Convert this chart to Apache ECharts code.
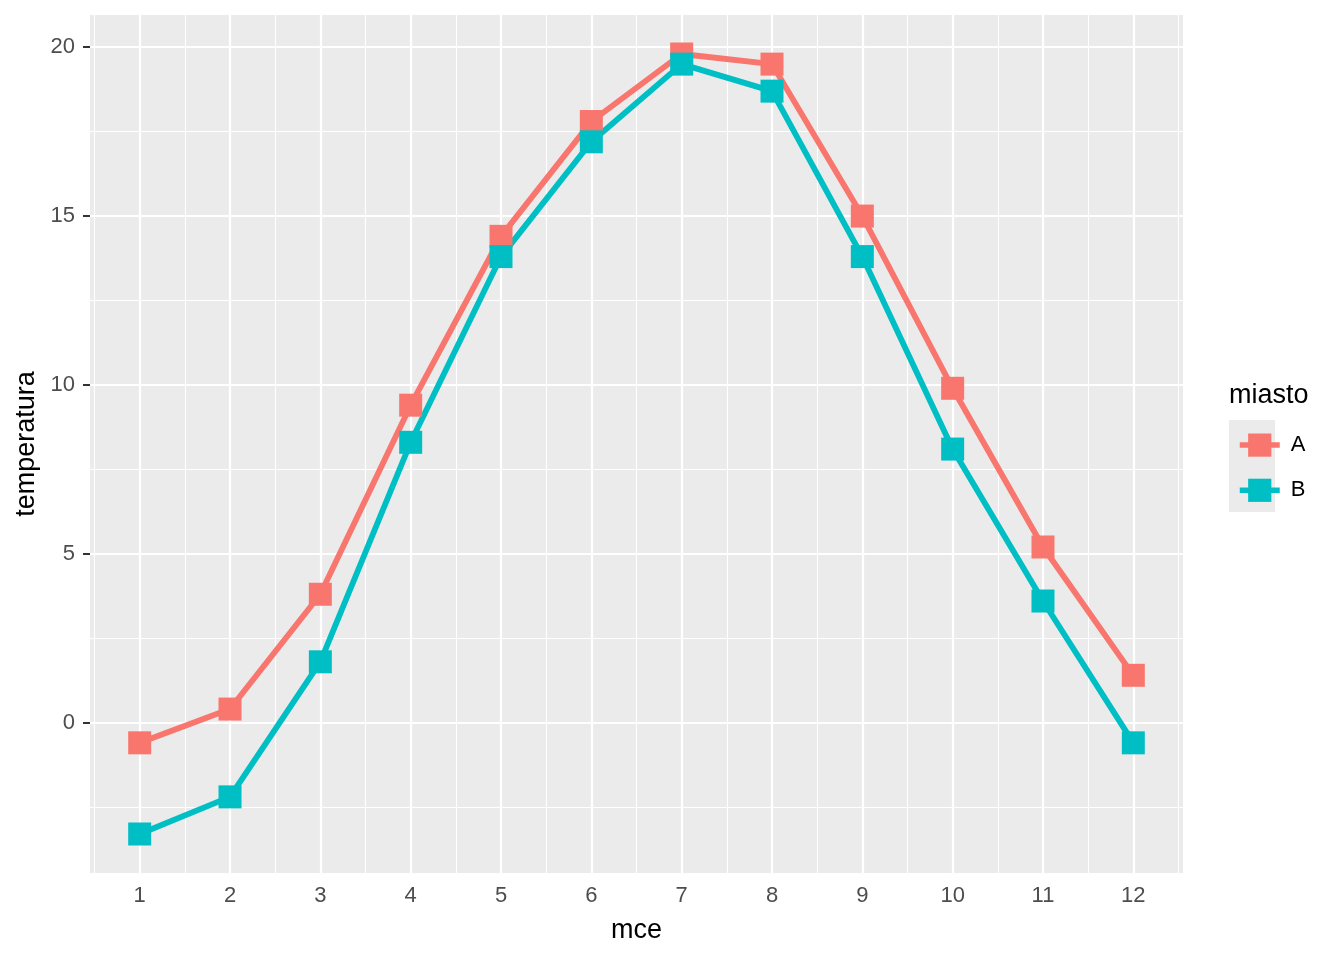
<!DOCTYPE html>
<html>
<head>
<meta charset="utf-8">
<script src="https://cdn.jsdelivr.net/npm/echarts@6/dist/echarts.min.js"></script>
<style>html,body{margin:0;padding:0;background:#fff}#c{width:1344px;height:960px}</style>
</head>
<body>
<div id="c"></div>
<script>
const months = [1,2,3,4,5,6,7,8,9,10,11,12];
const seriesA = [-0.6,0.4,3.8,9.4,14.4,17.8,19.8,19.5,15.0,9.9,5.2,1.4];
const seriesB = [-3.3,-2.2,1.8,8.3,13.8,17.2,19.5,18.7,13.8,8.1,3.6,-0.6];
const xMajor = [1,2,3,4,5,6,7,8,9,10,11,12];
const xMinor = [0.5,1.5,2.5,3.5,4.5,5.5,6.5,7.5,8.5,9.5,10.5,11.5,12.5];
const yMajor = [0,5,10,15,20];
const yMinor = [-2.5,2.5,7.5,12.5,17.5];
const seriesNames = ['A','B'];
const colors = ['#F8766D','#00BFC4'];

const font = 'Liberation Sans, Arial, Helvetica, sans-serif';
const chart = echarts.init(document.getElementById('c'));

const gridLines = [];
xMinor.forEach(v => gridLines.push({xAxis: v, lineStyle: {width: 1.1}}));
yMinor.forEach(v => gridLines.push({yAxis: v, lineStyle: {width: 1.1}}));
xMajor.forEach(v => gridLines.push({xAxis: v, lineStyle: {width: 2.2}}));
yMajor.forEach(v => gridLines.push({yAxis: v, lineStyle: {width: 2.2}}));

function mkSeries(name, vals, color) {
  return {
    name: name, type: 'line', z: 6,
    data: months.map((m, i) => [m, vals[i]]),
    symbol: 'rect', symbolSize: 23,
    lineStyle: {color: color, width: 5.8},
    itemStyle: {color: color},
    emphasis: {disabled: true},
    animation: false
  };
}

chart.setOption({
  animation: false,
  backgroundColor: '#fff',
  grid: {left: 90, top: 15, width: 1093, height: 858, show: true, backgroundColor: '#EBEBEB', borderWidth: 0, containLabel: false, outerBoundsMode: 'none'},
  xAxis: {
    type: 'value', min: 0.45, max: 12.55,
    name: 'mce', nameLocation: 'middle', nameGap: 44,
    nameTextStyle: {fontSize: 27, color: '#000', fontFamily: font},
    axisLine: {show: false},
    splitLine: {show: false},
    axisTick: {show: true, length: 7, lineStyle: {color: '#333', width: 2}, customValues: xMajor},
    axisLabel: {fontSize: 22, color: '#4D4D4D', fontFamily: font, margin: 12, customValues: xMajor}
  },
  yAxis: {
    type: 'value', min: -4.455, max: 20.955,
    name: 'temperatura', nameLocation: 'middle', nameGap: 44, nameRotate: 90,
    nameTextStyle: {fontSize: 27, color: '#000', fontFamily: font},
    axisLine: {show: false},
    splitLine: {show: false},
    axisTick: {show: true, length: 7, lineStyle: {color: '#333', width: 2}, customValues: yMajor},
    axisLabel: {fontSize: 22, color: '#4D4D4D', fontFamily: font, margin: 15, customValues: yMajor}
  },
  legend: {
    orient: 'vertical', left: 1232, top: 428.5,
    itemWidth: 40, itemHeight: 29, itemGap: 22,
    data: seriesNames,
    lineStyle: {width: 5.5},
    textStyle: {fontSize: 22, color: '#000', fontFamily: font, padding: [0,0,0,6]},
    selectedMode: false
  },
  graphic: [
    {type: 'rect', z: -1, shape: {x: 1229, y: 420, width: 46, height: 92}, style: {fill: '#EBEBEB'}},
    {type: 'text', left: 1229, top: 382, style: {text: 'miasto', fontSize: 27, fill: '#000', fontFamily: font}}
  ],
  series: [
    {
      type: 'line', z: 1, data: [], silent: true,
      markLine: {
        z: 1,
        silent: true, symbol: 'none', animation: false,
        label: {show: false},
        lineStyle: {color: '#FFFFFF', type: 'solid'},
        emphasis: {disabled: true},
        data: gridLines
      }
    },
    mkSeries(seriesNames[0], seriesA, colors[0]),
    mkSeries(seriesNames[1], seriesB, colors[1])
  ]
});
</script>
</body>
</html>
